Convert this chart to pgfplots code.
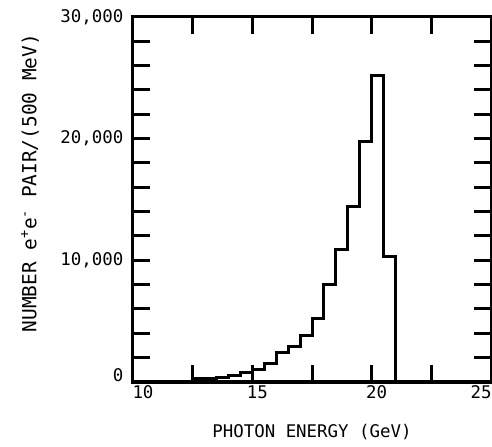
\documentclass[border=0pt]{standalone}
\usepackage{pgfplots}
\pgfplotsset{compat=1.18}
\usepackage{fontspec}
\setmainfont{DejaVu Sans Mono}

\begin{document}
\begin{tikzpicture}
\begin{axis}[
    scale only axis,
    width=358bp,
    height=365bp,
    xmin=10, xmax=25,
    ymin=0, ymax=30000,
    axis line style={line width=3bp},
    every tick/.style={black, line width=3bp},
    major tick length=17bp,
    minor tick length=17bp,
    xtick={15,20},
    xticklabels={15,20},
    minor xtick={12.5,17.5,22.5},
    extra x ticks={10,25},
    extra x tick labels={\hspace*{10bp}10,25\hspace*{30bp}},
    extra x tick style={major tick length=0pt},
    ytick={10000,20000,30000},
    yticklabels={{10,000},{20,000},{30,000}},
    minor ytick={2000,4000,6000,8000,12000,14000,16000,18000,22000,24000,26000,28000},
    extra y ticks={0},
    extra y tick labels={0},
    extra y tick style={major tick length=0pt, yticklabel style={yshift=7bp}},
    scaled y ticks=false,
    xticklabel style={xshift=5bp},
    yticklabel style={xshift=-6bp},
    tick label style={font=\fontsize{17.5}{20}\selectfont},
    xlabel style={font=\fontsize{17.5}{20}\selectfont},
    ylabel style={font=\fontsize{19.5}{22}\selectfont},
    xlabel={PHOTON ENERGY (GeV)},
    ylabel={NUMBER e\textsuperscript{+}e\textsuperscript{-} PAIR/(500 MeV)},
    xlabel style={at={(axis description cs:0.5,-0.137)}, anchor=center},
    ylabel style={at={(axis description cs:-0.288,0.545)}, anchor=center},
    clip=false,
]
% histogram, 500 MeV bins, value held from each left edge
\addplot[black, line width=3bp, const plot mark left] coordinates {
    (10,0) (12.5,250) (13.5,400) (14,500) (14.5,800) (15,1000)
    (15.5,1550) (16,2400) (16.5,2950) (17,3850) (17.5,5250)
    (18,8050) (18.5,10850) (19,14450) (19.5,19800) (20,25200)
    (20.5,10300) (21,0)
};
\end{axis}
\pgfresetboundingbox
\useasboundingbox (current axis.south west) ++(-133bp,-65bp) rectangle ++(492bp,447bp);
\end{tikzpicture}
\end{document}
